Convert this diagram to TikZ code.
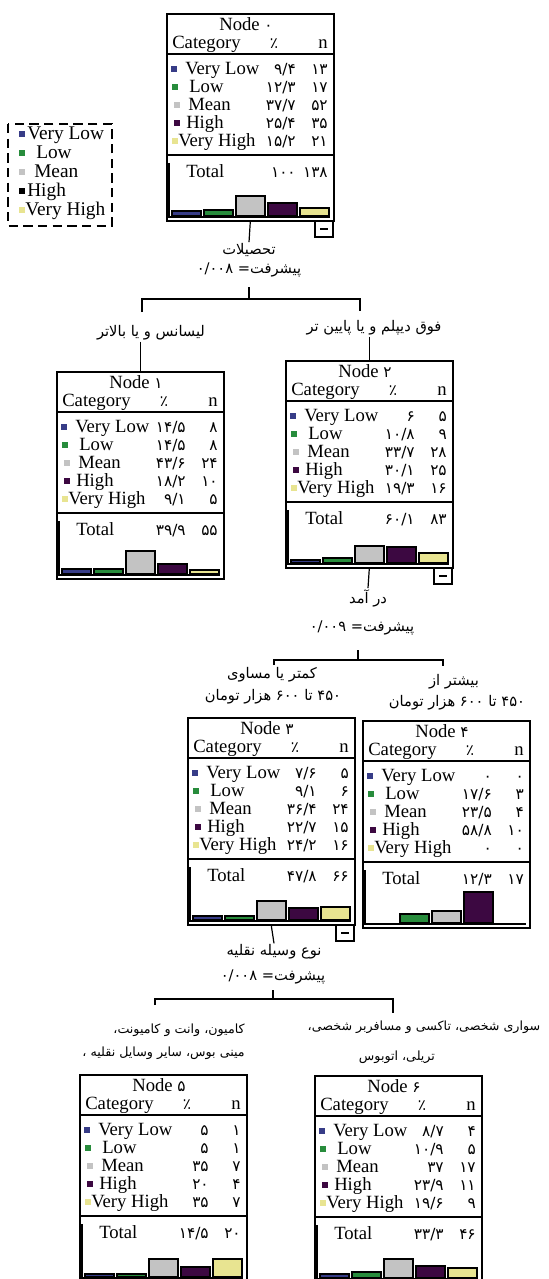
\documentclass[tikz,border=0pt]{standalone}
\usepackage{fontspec}
\setmainfont{Liberation Serif}
\newfontfamily\arabicfont[Script=Arabic]{DejaVu Sans}
\TeXXeTstate=1
\usepackage{tikz}
\newcommand{\pnum}[1]{{\arabicfont\fontsize{11.5}{13}\selectfont #1}}

\begin{document}
\begin{tikzpicture}[x=0.75pt,y=0.75pt,yscale=-1,xscale=1,
  statbox/.style={draw, line width=1.2pt, inner sep=0pt, minimum width=125.25pt, minimum height=155.25pt, anchor=north west},
  txt/.style={inner sep=0pt, anchor=base west, font=\fontsize{14}{16}\selectfont},
  num/.style={inner sep=0pt, anchor=base east, font=\arabicfont\fontsize{11.5}{13}\selectfont},
  lbl/.style={inner sep=0.75pt, font=\arabicfont\fontsize{11}{13}\selectfont},
  sublbl/.style={inner sep=0.75pt, font=\arabicfont\fontsize{9.5}{12}\selectfont},
  legtxt/.style={inner sep=0pt, anchor=base west, font=\fontsize{14.5}{16}\selectfont},
  rule/.style={line width=1.5pt},
  bar/.style={draw, line width=1.1pt},
  conn/.style={line width=0.9pt},
  cvl/.style={fill={rgb, 255:red, 55; green, 60; blue, 135}},
  clow/.style={fill={rgb, 255:red, 40; green, 140; blue, 60}},
  cmean/.style={fill={rgb, 255:red, 195; green, 195; blue, 195}},
  chigh/.style={fill={rgb, 255:red, 60; green, 8; blue, 65}},
  cvh/.style={fill={rgb, 255:red, 232; green, 228; blue, 145}}]
\useasboundingbox (0,0) rectangle (549,1279);

%Shape: Legend [id:legend]
\draw [line width=1.1pt, dash pattern=on 7pt off 4pt] (8,124) rectangle (112,226) ;
\fill [cvl] (19,131) rectangle (25,137) ;
\fill [clow] (19,150) rectangle (25,156) ;
\fill [cmean] (19,169) rectangle (25,175) ;
\fill [black] (19,188) rectangle (25,194) ;
\fill [cvh] (19,207) rectangle (25,213) ;
% Text Node
\draw (27,139) node [legtxt] (k1) {Very Low};
\draw (36,158) node [legtxt] (k2) {Low};
\draw (34,177) node [legtxt] (k3) {Mean};
\draw (27,196) node [legtxt] (k4) {High};
\draw (25,215) node [legtxt] (k5) {Very High};

%Node 0
\begin{scope}[shift={(166,13)}]
\node [statbox] (n0) at (0,0) {};
\draw [rule] (0,41) -- (167,41) ;
\draw [rule] (0,142) -- (167,142) ;
\fill [cvl] (5,53) rectangle (11,59) ;
\fill [clow] (6,71) rectangle (12,77) ;
\fill [cmean] (8,89) rectangle (14,95) ;
\fill [chigh] (8,107) rectangle (14,113) ;
\fill [cvh] (6,125) rectangle (12,131) ;
% Text Node
\draw (80,17) node [txt, anchor=base] (n0h) {Node \pnum{۰}};
\draw (6,35) node [txt] (n0c) {Category};
\draw (108,35) node [num, anchor=base] (n0pc) {٪};
\draw (157,35) node [txt, anchor=base] (n0nc) {n};
\draw (19,61) node [txt] (n0a) {Very Low};
\draw (23,79) node [txt] (n0b) {Low};
\draw (22,97) node [txt] (n0m) {Mean};
\draw (20,115) node [txt] (n0d) {High};
\draw (12,133) node [txt] (n0e) {Very High};
\draw (20,164) node [txt] (n0t) {Total};
\draw (130,61) node [num] (n0ap) {۹/۴};
\draw (130,79) node [num] (n0bp) {۱۲/۳};
\draw (130,97) node [num] (n0mp) {۳۷/۷};
\draw (130,115) node [num] (n0dp) {۲۵/۴};
\draw (130,133) node [num] (n0ep) {۱۵/۲};
\draw (130,164) node [num] (n0tp) {۱۰۰};
\draw (162,61) node [num] (n0an) {۱۳};
\draw (162,79) node [num] (n0bn) {۱۷};
\draw (162,97) node [num] (n0mn) {۵۲};
\draw (162,115) node [num] (n0dn) {۳۵};
\draw (162,133) node [num] (n0en) {۲۱};
\draw (162,164) node [num] (n0tn) {۱۳۸};
%Shape: Bars
\draw [line width=1pt] (3,150) -- (3,204) -- (164,204) ;
\draw [bar, cvl] (6,203) rectangle (35,198) ;
\draw [bar, clow] (38,203) rectangle (67,197) ;
\draw [bar, cmean] (70,203) rectangle (99,183) ;
\draw [bar, chigh] (102,203) rectangle (131,190) ;
\draw [bar, cvh] (134,203) rectangle (163,195) ;
%Shape: Minus
\draw [line width=1pt] (149,208) rectangle (167,224) ;
\draw [line width=1.2pt] (154,216) -- (162,216) ;
\end{scope}

%Node 1
\begin{scope}[shift={(56,371)}]
\node [statbox] (n1) at (0,0) {};
\draw [rule] (0,41) -- (167,41) ;
\draw [rule] (0,142) -- (167,142) ;
\fill [cvl] (5,53) rectangle (11,59) ;
\fill [clow] (6,71) rectangle (12,77) ;
\fill [cmean] (8,89) rectangle (14,95) ;
\fill [chigh] (8,107) rectangle (14,113) ;
\fill [cvh] (6,125) rectangle (12,131) ;
% Text Node
\draw (80,17) node [txt, anchor=base] (n1h) {Node \pnum{۱}};
\draw (6,35) node [txt] (n1c) {Category};
\draw (108,35) node [num, anchor=base] (n1pc) {٪};
\draw (157,35) node [txt, anchor=base] (n1nc) {n};
\draw (19,61) node [txt] (n1a) {Very Low};
\draw (23,79) node [txt] (n1b) {Low};
\draw (22,97) node [txt] (n1m) {Mean};
\draw (20,115) node [txt] (n1d) {High};
\draw (12,133) node [txt] (n1e) {Very High};
\draw (20,164) node [txt] (n1t) {Total};
\draw (130,61) node [num] (n1ap) {۱۴/۵};
\draw (130,79) node [num] (n1bp) {۱۴/۵};
\draw (130,97) node [num] (n1mp) {۴۳/۶};
\draw (130,115) node [num] (n1dp) {۱۸/۲};
\draw (130,133) node [num] (n1ep) {۹/۱};
\draw (130,164) node [num] (n1tp) {۳۹/۹};
\draw (162,61) node [num] (n1an) {۸};
\draw (162,79) node [num] (n1bn) {۸};
\draw (162,97) node [num] (n1mn) {۲۴};
\draw (162,115) node [num] (n1dn) {۱۰};
\draw (162,133) node [num] (n1en) {۵};
\draw (162,164) node [num] (n1tn) {۵۵};
%Shape: Bars
\draw [line width=1pt] (3,150) -- (3,204) -- (164,204) ;
\draw [bar, cvl] (6,203) rectangle (35,198) ;
\draw [bar, clow] (38,203) rectangle (67,198) ;
\draw [bar, cmean] (70,203) rectangle (99,180) ;
\draw [bar, chigh] (102,203) rectangle (131,193) ;
\draw [bar, cvh] (134,203) rectangle (163,199) ;
\end{scope}

%Node 2
\begin{scope}[shift={(285,360)}]
\node [statbox] (n2) at (0,0) {};
\draw [rule] (0,41) -- (167,41) ;
\draw [rule] (0,142) -- (167,142) ;
\fill [cvl] (5,53) rectangle (11,59) ;
\fill [clow] (6,71) rectangle (12,77) ;
\fill [cmean] (8,89) rectangle (14,95) ;
\fill [chigh] (8,107) rectangle (14,113) ;
\fill [cvh] (6,125) rectangle (12,131) ;
% Text Node
\draw (80,17) node [txt, anchor=base] (n2h) {Node \pnum{۲}};
\draw (6,35) node [txt] (n2c) {Category};
\draw (108,35) node [num, anchor=base] (n2pc) {٪};
\draw (157,35) node [txt, anchor=base] (n2nc) {n};
\draw (19,61) node [txt] (n2a) {Very Low};
\draw (23,79) node [txt] (n2b) {Low};
\draw (22,97) node [txt] (n2m) {Mean};
\draw (20,115) node [txt] (n2d) {High};
\draw (12,133) node [txt] (n2e) {Very High};
\draw (20,164) node [txt] (n2t) {Total};
\draw (130,61) node [num] (n2ap) {۶};
\draw (130,79) node [num] (n2bp) {۱۰/۸};
\draw (130,97) node [num] (n2mp) {۳۳/۷};
\draw (130,115) node [num] (n2dp) {۳۰/۱};
\draw (130,133) node [num] (n2ep) {۱۹/۳};
\draw (130,164) node [num] (n2tp) {۶۰/۱};
\draw (162,61) node [num] (n2an) {۵};
\draw (162,79) node [num] (n2bn) {۹};
\draw (162,97) node [num] (n2mn) {۲۸};
\draw (162,115) node [num] (n2dn) {۲۵};
\draw (162,133) node [num] (n2en) {۱۶};
\draw (162,164) node [num] (n2tn) {۸۳};
%Shape: Bars
\draw [line width=1pt] (3,150) -- (3,204) -- (164,204) ;
\draw [bar, cvl] (6,203) rectangle (35,200) ;
\draw [bar, clow] (38,203) rectangle (67,198) ;
\draw [bar, cmean] (70,203) rectangle (99,186) ;
\draw [bar, chigh] (102,203) rectangle (131,187) ;
\draw [bar, cvh] (134,203) rectangle (163,193) ;
%Shape: Minus
\draw [line width=1pt] (149,208) rectangle (167,224) ;
\draw [line width=1.2pt] (154,216) -- (162,216) ;
\end{scope}

%Node 3
\begin{scope}[shift={(187,717)}]
\node [statbox] (n3) at (0,0) {};
\draw [rule] (0,41) -- (167,41) ;
\draw [rule] (0,142) -- (167,142) ;
\fill [cvl] (5,53) rectangle (11,59) ;
\fill [clow] (6,71) rectangle (12,77) ;
\fill [cmean] (8,89) rectangle (14,95) ;
\fill [chigh] (8,107) rectangle (14,113) ;
\fill [cvh] (6,125) rectangle (12,131) ;
% Text Node
\draw (80,17) node [txt, anchor=base] (n3h) {Node \pnum{۳}};
\draw (6,35) node [txt] (n3c) {Category};
\draw (108,35) node [num, anchor=base] (n3pc) {٪};
\draw (157,35) node [txt, anchor=base] (n3nc) {n};
\draw (19,61) node [txt] (n3a) {Very Low};
\draw (23,79) node [txt] (n3b) {Low};
\draw (22,97) node [txt] (n3m) {Mean};
\draw (20,115) node [txt] (n3d) {High};
\draw (12,133) node [txt] (n3e) {Very High};
\draw (20,164) node [txt] (n3t) {Total};
\draw (130,61) node [num] (n3ap) {۷/۶};
\draw (130,79) node [num] (n3bp) {۹/۱};
\draw (130,97) node [num] (n3mp) {۳۶/۴};
\draw (130,115) node [num] (n3dp) {۲۲/۷};
\draw (130,133) node [num] (n3ep) {۲۴/۲};
\draw (130,164) node [num] (n3tp) {۴۷/۸};
\draw (162,61) node [num] (n3an) {۵};
\draw (162,79) node [num] (n3bn) {۶};
\draw (162,97) node [num] (n3mn) {۲۴};
\draw (162,115) node [num] (n3dn) {۱۵};
\draw (162,133) node [num] (n3en) {۱۶};
\draw (162,164) node [num] (n3tn) {۶۶};
%Shape: Bars
\draw [line width=1pt] (3,150) -- (3,204) -- (164,204) ;
\draw [bar, cvl] (6,203) rectangle (35,199) ;
\draw [bar, clow] (38,203) rectangle (67,199) ;
\draw [bar, cmean] (70,203) rectangle (99,184) ;
\draw [bar, chigh] (102,203) rectangle (131,191) ;
\draw [bar, cvh] (134,203) rectangle (163,190) ;
%Shape: Minus
\draw [line width=1pt] (149,208) rectangle (167,224) ;
\draw [line width=1.2pt] (154,216) -- (162,216) ;
\end{scope}

%Node 4
\begin{scope}[shift={(362,720)}]
\node [statbox] (n4) at (0,0) {};
\draw [rule] (0,41) -- (167,41) ;
\draw [rule] (0,142) -- (167,142) ;
\fill [cvl] (5,53) rectangle (11,59) ;
\fill [clow] (6,71) rectangle (12,77) ;
\fill [cmean] (8,89) rectangle (14,95) ;
\fill [chigh] (8,107) rectangle (14,113) ;
\fill [cvh] (6,125) rectangle (12,131) ;
% Text Node
\draw (80,17) node [txt, anchor=base] (n4h) {Node \pnum{۴}};
\draw (6,35) node [txt] (n4c) {Category};
\draw (108,35) node [num, anchor=base] (n4pc) {٪};
\draw (157,35) node [txt, anchor=base] (n4nc) {n};
\draw (19,61) node [txt] (n4a) {Very Low};
\draw (23,79) node [txt] (n4b) {Low};
\draw (22,97) node [txt] (n4m) {Mean};
\draw (20,115) node [txt] (n4d) {High};
\draw (12,133) node [txt] (n4e) {Very High};
\draw (20,164) node [txt] (n4t) {Total};
\draw (130,61) node [num] (n4ap) {۰};
\draw (130,79) node [num] (n4bp) {۱۷/۶};
\draw (130,97) node [num] (n4mp) {۲۳/۵};
\draw (130,115) node [num] (n4dp) {۵۸/۸};
\draw (130,133) node [num] (n4ep) {۰};
\draw (130,164) node [num] (n4tp) {۱۲/۳};
\draw (162,61) node [num] (n4an) {۰};
\draw (162,79) node [num] (n4bn) {۳};
\draw (162,97) node [num] (n4mn) {۴};
\draw (162,115) node [num] (n4dn) {۱۰};
\draw (162,133) node [num] (n4en) {۰};
\draw (162,164) node [num] (n4tn) {۱۷};
%Shape: Bars
\draw [line width=1pt] (3,150) -- (3,204) -- (164,204) ;
\draw [bar, clow] (38,203) rectangle (67,194) ;
\draw [bar, cmean] (70,203) rectangle (99,191) ;
\draw [bar, chigh] (102,203) rectangle (131,172) ;
\end{scope}

%Node 5
\begin{scope}[shift={(79,1074)}]
\node [statbox] (n5) at (0,0) {};
\draw [rule] (0,41) -- (167,41) ;
\draw [rule] (0,142) -- (167,142) ;
\fill [cvl] (5,53) rectangle (11,59) ;
\fill [clow] (6,71) rectangle (12,77) ;
\fill [cmean] (8,89) rectangle (14,95) ;
\fill [chigh] (8,107) rectangle (14,113) ;
\fill [cvh] (6,125) rectangle (12,131) ;
% Text Node
\draw (80,17) node [txt, anchor=base] (n5h) {Node \pnum{۵}};
\draw (6,35) node [txt] (n5c) {Category};
\draw (108,35) node [num, anchor=base] (n5pc) {٪};
\draw (157,35) node [txt, anchor=base] (n5nc) {n};
\draw (19,61) node [txt] (n5a) {Very Low};
\draw (23,79) node [txt] (n5b) {Low};
\draw (22,97) node [txt] (n5m) {Mean};
\draw (20,115) node [txt] (n5d) {High};
\draw (12,133) node [txt] (n5e) {Very High};
\draw (20,164) node [txt] (n5t) {Total};
\draw (130,61) node [num] (n5ap) {۵};
\draw (130,79) node [num] (n5bp) {۵};
\draw (130,97) node [num] (n5mp) {۳۵};
\draw (130,115) node [num] (n5dp) {۲۰};
\draw (130,133) node [num] (n5ep) {۳۵};
\draw (130,164) node [num] (n5tp) {۱۴/۵};
\draw (162,61) node [num] (n5an) {۱};
\draw (162,79) node [num] (n5bn) {۱};
\draw (162,97) node [num] (n5mn) {۷};
\draw (162,115) node [num] (n5dn) {۴};
\draw (162,133) node [num] (n5en) {۷};
\draw (162,164) node [num] (n5tn) {۲۰};
%Shape: Bars
\draw [line width=1pt] (3,150) -- (3,204) -- (164,204) ;
\draw [bar, cvl] (6,203) rectangle (35,200) ;
\draw [bar, clow] (38,203) rectangle (67,200) ;
\draw [bar, cmean] (70,203) rectangle (99,185) ;
\draw [bar, chigh] (102,203) rectangle (131,193) ;
\draw [bar, cvh] (134,203) rectangle (163,185) ;
\end{scope}

%Node 6
\begin{scope}[shift={(314,1075)}]
\node [statbox] (n6) at (0,0) {};
\draw [rule] (0,41) -- (167,41) ;
\draw [rule] (0,142) -- (167,142) ;
\fill [cvl] (5,53) rectangle (11,59) ;
\fill [clow] (6,71) rectangle (12,77) ;
\fill [cmean] (8,89) rectangle (14,95) ;
\fill [chigh] (8,107) rectangle (14,113) ;
\fill [cvh] (6,125) rectangle (12,131) ;
% Text Node
\draw (80,17) node [txt, anchor=base] (n6h) {Node \pnum{۶}};
\draw (6,35) node [txt] (n6c) {Category};
\draw (108,35) node [num, anchor=base] (n6pc) {٪};
\draw (157,35) node [txt, anchor=base] (n6nc) {n};
\draw (19,61) node [txt] (n6a) {Very Low};
\draw (23,79) node [txt] (n6b) {Low};
\draw (22,97) node [txt] (n6m) {Mean};
\draw (20,115) node [txt] (n6d) {High};
\draw (12,133) node [txt] (n6e) {Very High};
\draw (20,164) node [txt] (n6t) {Total};
\draw (130,61) node [num] (n6ap) {۸/۷};
\draw (130,79) node [num] (n6bp) {۱۰/۹};
\draw (130,97) node [num] (n6mp) {۳۷};
\draw (130,115) node [num] (n6dp) {۲۳/۹};
\draw (130,133) node [num] (n6ep) {۱۹/۶};
\draw (130,164) node [num] (n6tp) {۳۳/۳};
\draw (162,61) node [num] (n6an) {۴};
\draw (162,79) node [num] (n6bn) {۵};
\draw (162,97) node [num] (n6mn) {۱۷};
\draw (162,115) node [num] (n6dn) {۱۱};
\draw (162,133) node [num] (n6en) {۹};
\draw (162,164) node [num] (n6tn) {۴۶};
%Shape: Bars
\draw [line width=1pt] (3,150) -- (3,204) -- (164,204) ;
\draw [bar, cvl] (6,203) rectangle (35,199) ;
\draw [bar, clow] (38,203) rectangle (67,197) ;
\draw [bar, cmean] (70,203) rectangle (99,184) ;
\draw [bar, chigh] (102,203) rectangle (131,191) ;
\draw [bar, cvh] (134,203) rectangle (163,193) ;
\end{scope}

%Split under node 0
% Text Node
\draw (249,250) node [lbl] (q0) {\beginR تحصیلات\endR};
% Text Node
\draw (249,270) node [lbl] (g0) {\beginR پیشرفت= \beginL۰/۰۰۸\endL\endR};
\coordinate (s0) at (249,299);
\coordinate (s0l) at (142,299);
\coordinate (s0r) at (360,299);
\draw [conn] (n0.south) -- (q0.north) ;
\draw [conn] (s0) -- ++(0,-12) ;
\draw [conn] (s0l) ++(0,13) -- (s0l) -- (s0r) -- ++(0,12) ;
% Text Node
\draw (151,333) node [lbl] (l1) {\beginR لیسانس و یا بالاتر\endR};
% Text Node
\draw (374,328) node [lbl] (l2) {\beginR فوق دیپلم و یا پایین تر\endR};
\draw [conn] (l1.south -| n1.north) -- (n1.north) ;
\draw [conn] (l2.south -| n2.north) -- (n2.north) ;

%Split under node 2
% Text Node
\draw (368,598) node [lbl] (q1) {\beginR در آمد\endR};
% Text Node
\draw (362,628) node [lbl] (g1) {\beginR پیشرفت= \beginL۰/۰۰۹\endL\endR};
\coordinate (s1) at (358,660);
\coordinate (s1l) at (274,660);
\coordinate (s1r) at (443,660);
\draw [conn] (n2.south) -- (q1.north) ;
\draw [conn] (s1) -- ++(0,-10) ;
\draw [conn] (s1l) ++(0,5) -- (s1l) -- (s1r) -- ++(0,6) ;
% Text Node
\draw (272,675) node [lbl] (l3) {\beginR کمتر یا مساوی\endR};
\draw (273,697) node [lbl] (l3b) {\beginR ۴۵۰ تا ۶۰۰ هزار تومان\endR};
% Text Node
\draw (454,682) node [lbl] (l4) {\beginR بیشتر از\endR};
\draw (457,703) node [lbl] (l4b) {\beginR ۴۵۰ تا ۶۰۰ هزار تومان\endR};

%Split under node 3
% Text Node
\draw (274,952) node [lbl] (q2) {\beginR نوع وسیله نقلیه\endR};
% Text Node
\draw (273,977) node [lbl] (g2) {\beginR پیشرفت= \beginL۰/۰۰۸\endL\endR};
\coordinate (s2) at (273,999);
\coordinate (s2l) at (155,999);
\coordinate (s2r) at (393,999);
\draw [conn] (n3.south) -- (q2.north) ;
\draw [conn] (s2) -- ++(0,-9) ;
\draw [conn] (s2l) ++(0,6) -- (s2l) -- (s2r) -- ++(0,14) ;
% Text Node
\draw (246,1030) node [sublbl, anchor=east] (l5) {\beginR کامیون، وانت و کامیونت،\endR};
\draw (246,1053) node [sublbl, anchor=east] (l5b) {\beginR مینی بوس، سایر وسایل نقلیه ،\endR};
% Text Node
\draw (424,1027) node [sublbl] (l6) {\beginR سواری شخصی، تاکسی و مسافربر شخصی،\endR};
\draw (397,1057) node [sublbl] (l6b) {\beginR تریلی، اتوبوس\endR};

\end{tikzpicture}
\end{document}
